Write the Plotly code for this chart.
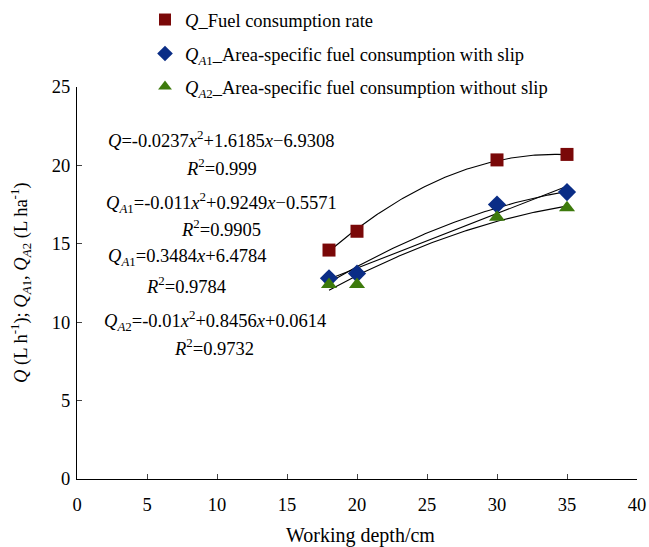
import numpy as np
import plotly.graph_objects as go

# ---- data ----
depth = [18, 20, 30, 35]
q_fuel = [14.6, 15.8, 20.35, 20.7]
qa1_slip = [12.8, 13.1, 17.5, 18.3]
qa2_noslip = [12.4, 12.4, 16.7, 17.3]

# trendline coefficients as printed on the chart (highest power first)
coef_q = [-0.0237, 1.6185, -6.9308]
coef_qa1_quad = [-0.011, 0.9249, -0.5571]
coef_qa1_lin = [0.3484, 6.4784]
coef_qa2 = [-0.01, 0.8456, 0.0614]

x_ticks = [0, 5, 10, 15, 20, 25, 30, 35, 40]
y_ticks = [0, 5, 10, 15, 20, 25]

FONT = "Liberation Serif"
FS = 18.5
C_Q = "#7a0808"
C_A1 = "#0a2d86"
C_A2 = "#3d7a0c"

fig = go.Figure()

xs = np.linspace(min(depth), max(depth), 120)
for coef in (coef_q, coef_qa1_quad, coef_qa1_lin, coef_qa2):
    fig.add_trace(go.Scatter(x=xs, y=np.polyval(coef, xs), mode="lines",
                             line=dict(color="black", width=1.1),
                             showlegend=False, hoverinfo="skip"))

fig.add_trace(go.Scatter(x=depth, y=q_fuel, mode="markers",
                         name="<i>Q</i>_Fuel consumption rate",
                         marker=dict(symbol="square", size=13, color=C_Q),
                         legend="legend"))
fig.add_trace(go.Scatter(x=depth, y=qa1_slip, mode="markers",
                         name="<i>Q</i><sub><i>A</i>1</sub>_Area-specific fuel consumption with slip",
                         marker=dict(symbol="diamond", size=14, color=C_A1),
                         legend="legend2"))
fig.add_trace(go.Scatter(x=depth, y=qa2_noslip, mode="markers",
                         name="<i>Q</i><sub><i>A</i>2</sub>_Area-specific fuel consumption without slip",
                         marker=dict(symbol="triangle-up", size=14, color=C_A2),
                         legend="legend3"))

# ---- equation annotations ----
eqs = [
    ("<i>Q</i>=-0.0237<i>x</i><sup>2</sup>+1.6185<i>x</i>−6.9308", 221, 139),
    ("<i>R</i><sup>2</sup>=0.999", 221, 167),
    ("<i>Q</i><sub><i>A</i>1</sub>=-0.011<i>x</i><sup>2</sup>+0.9249<i>x</i>−0.5571", 221, 202),
    ("<i>R</i><sup>2</sup>=0.9905", 221, 228),
    ("<i>Q</i><sub><i>A</i>1</sub>=0.3484<i>x</i>+6.4784", 187, 257),
    ("<i>R</i><sup>2</sup>=0.9784", 186, 285),
    ("<i>Q</i><sub><i>A</i>2</sub>=-0.01<i>x</i><sup>2</sup>+0.8456<i>x</i>+0.0614", 215, 320),
    ("<i>R</i><sup>2</sup>=0.9732", 214, 347),
]
L, R, T, B = 77, 12, 87, 68
W, H = 649, 547
pw, ph = W - L - R, H - T - B
for txt, px, py in eqs:
    fig.add_annotation(text=txt, xref="paper", yref="paper",
                       x=(px - L) / pw, y=(H - B - py) / ph,
                       xanchor="center", yanchor="middle", showarrow=False,
                       font=dict(family=FONT, size=FS, color="black"))

# y-axis title (rotated text)
fig.add_annotation(
    text="<i>Q</i> (L h<sup>-1</sup>); <i>Q</i><sub><i>A</i>1</sub>, <i>Q</i><sub><i>A</i>2</sub> (L ha<sup>-1</sup>)",
    xref="paper", yref="paper", x=(20 - L) / pw, y=0.5, textangle=-90,
    xanchor="center", yanchor="middle", showarrow=False,
    font=dict(family=FONT, size=FS, color="black"))

# x-axis title
fig.add_annotation(
    text="Working depth/cm", xref="paper", yref="paper",
    x=(360 - L) / pw, y=(H - B - 535) / ph,
    xanchor="center", yanchor="middle", showarrow=False,
    font=dict(family=FONT, size=20, color="black"))

leg_common = dict(font=dict(family=FONT, size=FS, color="black"),
                  bgcolor="rgba(0,0,0,0)", xanchor="left", yanchor="middle",
                  xref="container", yref="container",
                  itemsizing="constant", itemwidth=30)
leg_x = 145 / W
fig.update_layout(
    width=W, height=H,
    margin=dict(l=L, r=R, t=T, b=B, autoexpand=False),
    paper_bgcolor="white", plot_bgcolor="white",
    font=dict(family=FONT, size=FS, color="black"),
    legend=dict(x=leg_x, y=1 - 20 / H, **leg_common),
    legend2=dict(x=leg_x, y=1 - 54 / H, **leg_common),
    legend3=dict(x=leg_x, y=1 - 87 / H, **leg_common),
    xaxis=dict(range=[0, 40], tickvals=x_ticks, ticks="inside", ticklen=5,
               showline=True, linecolor="black", linewidth=1.2, showgrid=False,
               zeroline=False, tickfont=dict(family=FONT, size=FS),
               ticklabelstandoff=9, automargin=False),
    yaxis=dict(range=[0, 25], tickvals=y_ticks, ticks="inside", ticklen=5,
               showline=True, linecolor="black", linewidth=1.2, showgrid=False,
               zeroline=False, tickfont=dict(family=FONT, size=FS),
               ticklabelstandoff=2, automargin=False),
)

fig.write_html("out.html", config={"displayModeBar": False},
               post_script="document.body.style.margin='0';document.body.style.overflow='hidden';")
